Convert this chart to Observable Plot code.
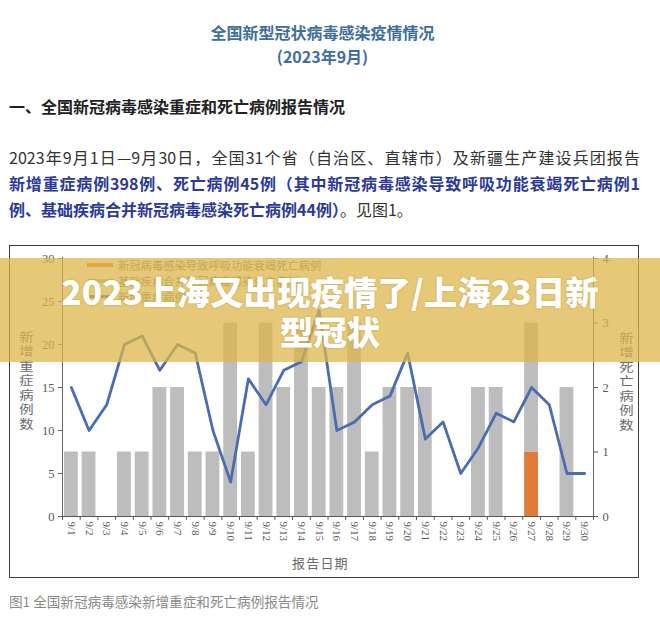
<!DOCTYPE html>
<html>
<head>
<meta charset="utf-8">
<script src="https://cdn.jsdelivr.net/npm/d3@7"></script>
<script src="https://cdn.jsdelivr.net/npm/@observablehq/plot@0.6"></script>
<style>
  html, body { margin: 0; padding: 0; background: #fff; }
  body { width: 660px; height: 621px; position: relative; overflow: hidden; font-family: "Noto Sans CJK SC", "Noto Sans", sans-serif; }
  .abs { position: absolute; white-space: nowrap; }
  .title { left: 0; width: 645px; text-align: center; font-weight: bold; color: #3d6f9c; font-size: 16px; line-height: 20px; }
  .para { left: 9px; width: 631px; height: 26px; line-height: 26px; font-size: 16px; color: #333; text-align: justify; text-align-last: justify; }
  .blue { color: #2b3a98; font-weight: bold; }
  #box { left: 9px; top: 245px; width: 630px; height: 333px; box-sizing: border-box; border: 1.5px solid #3a3a3a; }
  #chart { left: 10px; top: 247px; }
  .vt { writing-mode: vertical-rl; text-orientation: upright; font-size: 12px; letter-spacing: 2.5px; color: #6a6a6a; transform: scaleX(1.2); }
  .leg { font-size: 11.3px; color: #7a7a7a; line-height: 14px; }
  .sw { position: absolute; height: 4px; width: 26px; }
  #banner { left: 0; top: 258px; width: 660px; height: 104px; background: rgba(220,182,75,0.75); }
  .btxt { left: 0; width: 660px; text-align: center; color: #fff; font-weight: 900; font-size: 33.5px; line-height: 40px; text-shadow: 0 0 2px rgba(120,90,20,0.35); }
</style>
</head>
<body>
<div class="abs title" style="top:22px">全国新型冠状病毒感染疫情情况</div>
<div class="abs title" style="top:46px">(2023年9月)</div>
<div class="abs" style="left:9px; top:95px; font-size:16px; line-height:22px; font-weight:bold; color:#222">一、全国新冠病毒感染重症和死亡病例报告情况</div>
<div class="abs para" style="top:144px">2023年9月1日—9月30日，全国31个省（自治区、直辖市）及新疆生产建设兵团报告</div>
<div class="abs para blue" style="top:170px">新增重症病例398例、死亡病例45例（其中新冠病毒感染导致呼吸功能衰竭死亡病例1</div>
<div class="abs" style="left:9px; top:196px; line-height:26px; font-size:16px; color:#333"><span class="blue">例、基础疾病合并新冠病毒感染死亡病例44例）</span>。见图1。</div>

<div id="box" class="abs"></div>
<div id="chart" class="abs"></div>

<div class="abs vt" style="left:18px; top:331px">新增重症病例数</div>
<div class="abs vt" style="left:618px; top:332px">新增死亡病例数</div>
<div class="abs" style="left:292px; top:554px; font-size:13px; letter-spacing:1.2px; color:#6a6a6a; line-height:18px">报告日期</div>

<div class="abs leg" style="left:87px; top:258px; width:300px; height:50px">
  <div class="sw" style="left:0; top:5px; background:#e07b39"></div>
  <div class="abs" style="left:31px; top:0">新冠病毒感染导致呼吸功能衰竭死亡病例</div>
  <div class="sw" style="left:0; top:21px; background:#bdbdbd"></div>
  <div class="abs" style="left:31px; top:16px">基础疾病合并新冠病毒感染死亡病例</div>
  <div class="sw" style="left:0; top:37px; height:3px; background:#4a6db0"></div>
  <div class="abs" style="left:31px; top:32px">新增重症病例</div>
</div>

<div id="banner" class="abs"></div>
<div class="abs btxt" style="top:271px">2023上海又出现疫情了/上海23日新</div>
<div class="abs btxt" style="top:311px">型冠状</div>

<div class="abs" style="left:9px; top:592px; font-size:13.6px; color:#8a8a8a; line-height:18px">图1 全国新冠病毒感染新增重症和死亡病例报告情况</div>

<script>
const days = ["9/1","9/2","9/3","9/4","9/5","9/6","9/7","9/8","9/9","9/10","9/11","9/12","9/13","9/14","9/15","9/16","9/17","9/18","9/19","9/20","9/21","9/22","9/23","9/24","9/25","9/26","9/27","9/28","9/29","9/30"];
const severeCases = [15,10,13,20,21,17,20,19,10,4,16,13,17,18,24,10,11,13,14,19,9,11,5,8,12,11,15,13,5,5];
const deathsRespFailure = [0,0,0,0,0,0,0,0,0,0,0,0,0,0,0,0,0,0,0,0,0,0,0,0,0,0,1,0,0,0];
const deathsComorbid = [1,1,0,1,1,2,2,1,1,3,1,3,2,3,2,2,3,1,2,2,2,0,0,2,2,0,2,0,2,0];
const leftTicks = [0,5,10,15,20,25,30];
const rightTicks = [0,1,2,3,4];

const K = 30 / 4; // right axis (deaths 0–4) mapped onto left axis (0–30)
const rows = days.map((d, i) => ({
  i: i + 1, day: d,
  severe: severeCases[i],
  resp: deathsRespFailure[i],
  comorbid: deathsComorbid[i]
}));
const hw = 0.39;

const chart = Plot.plot({
  width: 628, height: 331,
  marginLeft: 52, marginRight: 45, marginTop: 11, marginBottom: 62,
  x: {domain: [0.5, 30.5]},
  y: {domain: [0, 30]},
  style: {background: "transparent", fontFamily: "'Liberation Serif', 'DejaVu Serif', serif", color: "#5a5a5a", overflow: "visible"},
  marks: [
    Plot.rect(rows, {x1: d => d.i - hw, x2: d => d.i + hw, y1: d => 0, y2: d => d.resp * K, fill: "#e07b39"}),
    Plot.rect(rows, {x1: d => d.i - hw, x2: d => d.i + hw, y1: d => d.resp * K, y2: d => (d.resp + d.comorbid) * K, fill: "#bdbdbd"}),
    Plot.lineY(rows, {x: "i", y: "severe", stroke: "#4a6db0", strokeWidth: 2.8}),
    Plot.ruleY([0], {stroke: "#555", strokeWidth: 1.2}),
    Plot.ruleX([0.5, 30.5], {y1: 0, y2: 30.15, stroke: "#666", strokeWidth: 1}),
    Plot.ruleX(d3.range(0.5, 31, 1), {y1: 0, y2: -0.45, stroke: "#555"}),
    Plot.axisY(leftTicks, {anchor: "left", tickSize: 4, tickPadding: 4, fontSize: 12.5, letterSpacing: 1.5, label: null, stroke: "#666"}),
    Plot.axisY(rightTicks.map(v => v * K), {anchor: "right", tickFormat: v => rightTicks[Math.round(v / K)], tickSize: 4, tickPadding: 5, fontSize: 12.5, label: null}),
    Plot.axisX(rows.map(d => d.i), {anchor: "bottom", tickFormat: i => days[i - 1], tickRotate: 90, tickSize: 0, tickPadding: 5, fontSize: 11, label: null})
  ]
});
document.getElementById("chart").appendChild(chart);
</script>
</body>
</html>
